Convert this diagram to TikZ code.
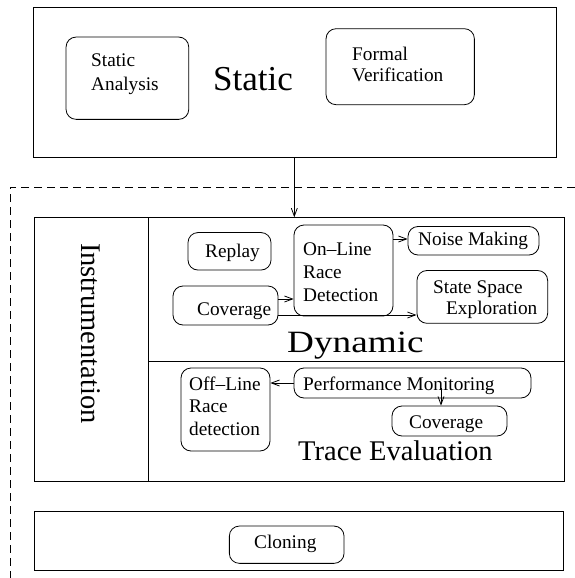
\documentclass[tikz,border=0pt]{standalone}
\usepackage{fontspec}
\setmainfont{Liberation Serif}
\usetikzlibrary{arrows.meta}

\begin{document}
\begin{tikzpicture}[x=1pt, y=-1pt,
    frame/.style={draw=black, line width=0.8pt, inner sep=0pt},
    rbox/.style={draw=black, line width=0.8pt, rounded corners=10pt, inner sep=0pt},
    lbl/.style={inner sep=0pt, anchor=base west, align=left,
        font=\fontsize{19.3}{23}\selectfont},
    title/.style={inner sep=0pt, anchor=base west},
    arr/.style={line width=0.8pt, -{Straight Barb[length=8pt,width=6pt]}},
    zone/.style={line width=0.8pt, dash pattern=on 8pt off 5pt}
]
    \useasboundingbox (0,0) rectangle (575,578);

    % static part
    \node[frame, minimum width=522.5, minimum height=150] (statbox) at (294.75,82) {};
    \node[rbox, minimum width=122.7, minimum height=82.3] (sa) at (127.4,78.2) {};
    \node[rbox, minimum width=148.3, minimum height=76] (fv) at (400.2,66.7) {};
    \node[lbl, font=\fontsize{19.3}{23.3}\selectfont] (satext) at (91,90) {Static\\Analysis};
    \node[lbl, font=\fontsize{19.3}{21.7}\selectfont] (fvtext) at (352,81.7) {Formal\\Verification};
    \node[title, font=\fontsize{35}{40}\selectfont] (stattitle) at (213,90) {Static};

    % dynamic part
    \node[frame, minimum width=530, minimum height=263.3] (dynbox) at (299,349.35) {};
    \draw[line width=0.8pt] (dynbox.north -| 148,0) -- (dynbox.south -| 148,0);
    \draw[line width=0.8pt] (148,361) -- (dynbox.east |- 0,361);
    \node[title, rotate=-90, anchor=base, font=\fontsize{28.5}{33}\selectfont] (instr) at (81.7,333.3) {Instrumentation};

    \node[rbox, minimum width=83, minimum height=37.5] (replay) at (229.5,251.3) {};
    \node[rbox, minimum width=99, minimum height=91] (online) at (343.5,270.5) {};
    \node[rbox, minimum width=131, minimum height=28.5] (noise) at (473.5,240.75) {};
    \node[rbox, minimum width=130.7, minimum height=52.8] (state) at (482.3,296.9) {};
    \node[rbox, minimum width=105, minimum height=39] (dcov) at (225.5,305.5) {};
    \node[lbl] (replaytext) at (205,257) {Replay};
    \node[lbl] (onlinetext) at (303,301) {On--Line\\Race\\Detection};
    \node[lbl] (noisetext) at (418,245) {Noise Making};
    \node[lbl, font=\fontsize{19.3}{21.5}\selectfont] (statetext) at (433,314.8) {State Space\\\hspace*{13pt}Exploration};
    \node[lbl] (dcovtext) at (197,315) {Coverage};
    \node[title, xscale=1.2, font=\fontsize{31}{36}\selectfont] (dyntitle) at (287,352) {Dynamic};

    \draw[arr] (dcov.east |- 0,299) -- (online.west |- 0,299);
    \draw[arr] (dcov.east |- 0,315) -- (state.west |- 0,315);
    \draw[arr] (online.east |- 0,239) -- (noise.west |- 0,239);

    % trace part
    \node[rbox, minimum width=89, minimum height=83] (offline) at (225.5,409.5) {};
    \node[rbox, minimum width=237, minimum height=30] (perf) at (412.5,383) {};
    \node[rbox, minimum width=115, minimum height=30] (tcov) at (449.5,421) {};
    \node[lbl, font=\fontsize{19.3}{22.5}\selectfont] (offlinetext) at (189,435) {Off--Line\\Race\\detection};
    \node[lbl] (perftext) at (303,390) {Performance Monitoring};
    \node[lbl] (tcovtext) at (409,428) {Coverage};
    \node[title, font=\fontsize{28.5}{33}\selectfont] (tracetitle) at (298,460.5) {Trace Evaluation};

    \draw[arr] (perf.west |- 0,383) -- (offline.east |- 0,383);
    \draw[arr] (perf.south -| 441,0) ++(0,-10) -- (tcov.north -| 441,0);

    % cloning
    \node[frame, minimum width=529, minimum height=59] (clonebox) at (298.5,541.2) {};
    \node[rbox, minimum width=114.7, minimum height=37.3] (cloning) at (286.7,544.7) {};
    \node[lbl] (cloningtext) at (254,548) {Cloning};

    \draw[arr] (statbox.south -| 294.3,0) -- (dynbox.north -| 294.3,0);
    \draw[zone] (575,187) -- (10,187) -- (10,578);
\end{tikzpicture}
\end{document}
